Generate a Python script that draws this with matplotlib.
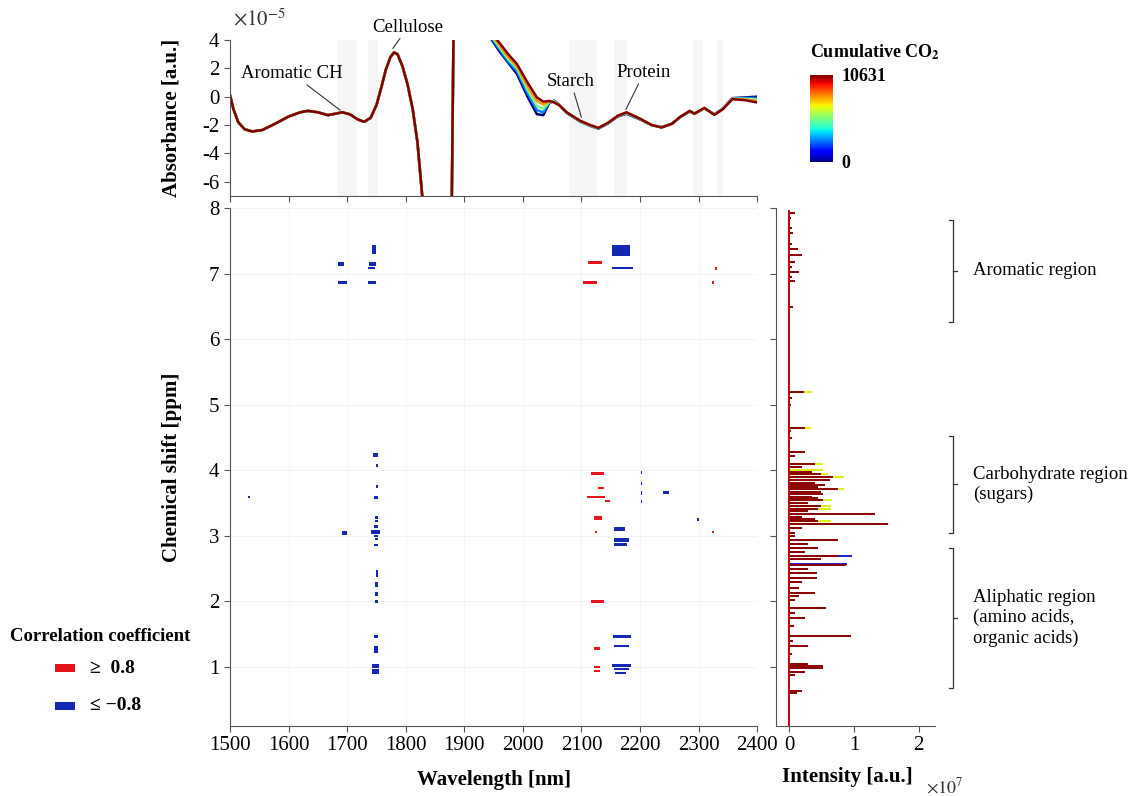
import numpy as np
import matplotlib.pyplot as plt
from matplotlib import cm
from matplotlib.colors import Normalize
from matplotlib.patches import Rectangle

plt.rcParams['font.family'] = ['Liberation Serif', 'DejaVu Serif']
plt.rcParams['mathtext.fontset'] = 'stix'
plt.rcParams['axes.unicode_minus'] = False

# ---- NIR spectra (absorbance, units of 1e-5 a.u.) ----
# left part is the same for all samples
wl_left = [1500, 1506, 1514, 1525, 1538, 1555, 1575, 1600, 1620, 1633, 1650, 1667,
           1680, 1692, 1705, 1718, 1729, 1740, 1750, 1758, 1766, 1774, 1780, 1786,
           1794, 1803, 1812, 1820, 1828, 1835, 1878, 1882]
abs_left = [0.1, -0.9, -1.8, -2.3, -2.45, -2.35, -1.95, -1.4, -1.1, -1.0, -1.1, -1.3,
            -1.2, -1.1, -1.25, -1.6, -1.77, -1.5, -0.6, 0.6, 1.9, 2.8, 3.12, 3.0,
            2.2, 0.9, -0.9, -3.2, -6.9, -10, -10, 6]

wl_right = [1935, 1944, 1960, 1975, 1990, 2008, 2024, 2035, 2045, 2053, 2062, 2075,
            2098, 2115, 2129, 2145, 2162, 2177, 2200, 2220, 2237, 2255, 2268, 2285,
            2293, 2310, 2327, 2341, 2358, 2380, 2399]
abs_co2_0 = [6, 4.2, 3.2, 2.4, 1.6, 0.0, -1.23, -1.3, -0.45, -0.28, -0.55, -1.15,
             -1.75, -2.05, -2.25, -1.9, -1.4, -1.2, -1.6, -2.0, -2.15, -1.9, -1.45, -1.05,
             -1.2, -0.8, -1.25, -0.85, -0.1, -0.05, 0.0]
abs_co2_2700 = [6, 4.3, 3.35, 2.5, 1.8, 0.25, -0.95, -1.1, -0.4, -0.3, -0.56, -1.14,
                -1.74, -2.04, -2.24, -1.88, -1.38, -1.17, -1.58, -2.0, -2.16, -1.9, -1.45, -1.03,
                -1.2, -0.8, -1.26, -0.87, -0.12, -0.1, -0.1]
abs_co2_5300 = [6, 4.4, 3.5, 2.65, 2.0, 0.5, -0.65, -0.85, -0.38, -0.33, -0.57, -1.12,
                -1.72, -2.02, -2.22, -1.87, -1.37, -1.14, -1.56, -2.0, -2.16, -1.9, -1.45, -1.02,
                -1.2, -0.8, -1.27, -0.88, -0.14, -0.15, -0.2]
abs_co2_8000 = [6, 4.5, 3.65, 2.8, 2.15, 0.75, -0.3, -0.55, -0.33, -0.37, -0.58, -1.11,
                -1.71, -2.01, -2.21, -1.86, -1.36, -1.12, -1.55, -2.0, -2.17, -1.9, -1.45, -1.01,
                -1.2, -0.8, -1.28, -0.89, -0.16, -0.2, -0.3]
abs_co2_10631 = [6, 4.6, 3.8, 3.0, 2.3, 1.0, -0.05, -0.35, -0.3, -0.4, -0.6, -1.1,
                 -1.7, -2.0, -2.2, -1.85, -1.35, -1.1, -1.55, -2.0, -2.17, -1.9, -1.45, -1.0,
                 -1.2, -0.8, -1.28, -0.9, -0.17, -0.25, -0.4]
co2_levels = [0, 2700, 5300, 8000, 10631]
co2_max = 10631

# light gray wavelength bands in the spectrum panel
band_start = [1683, 1735, 2078, 2155, 2290, 2331]
band_end = [1717, 1752, 2127, 2178, 2307, 2342]

# ---- correlation map (wl_start, wl_end, ppm_low, ppm_high) ----
pos_blobs = [
    (2111, 2135, 7.14, 7.19), (2102, 2127, 6.84, 6.89), (2328, 2332, 7.06, 7.10),
    (2323, 2327, 6.84, 6.88), (2116, 2138, 3.93, 3.98), (2129, 2138, 3.72, 3.75),
    (2109, 2141, 3.57, 3.61), (2141, 2148, 3.52, 3.55), (2122, 2135, 3.24, 3.30),
    (2124, 2127, 3.04, 3.07), (2116, 2138, 1.97, 2.02), (2122, 2132, 1.26, 1.30),
    (2121, 2132, 0.98, 1.02), (2121, 2132, 0.92, 0.96), (2323, 2326, 3.04, 3.07),
]
neg_blobs = [
    (1685, 1694, 7.12, 7.17), (1685, 1699, 6.84, 6.89), (1736, 1749, 6.84, 6.89),
    (1738, 1750, 7.12, 7.18), (1736, 1748, 7.07, 7.10), (1742, 1750, 7.30, 7.43),
    (1744, 1752, 4.20, 4.26), (1749, 1752, 4.05, 4.09), (1749, 1752, 3.73, 3.77),
    (1746, 1753, 3.56, 3.61), (1747, 1753, 3.26, 3.30), (1747, 1753, 3.21, 3.24),
    (1745, 1753, 3.12, 3.17), (1740, 1756, 3.03, 3.09), (1746, 1753, 2.99, 3.01),
    (1691, 1700, 3.02, 3.07), (1747, 1753, 2.93, 2.97), (1745, 1753, 2.84, 2.88),
    (1749, 1753, 2.38, 2.48), (1747, 1753, 2.22, 2.30), (1747, 1753, 2.08, 2.15),
    (1747, 1753, 1.97, 2.02), (1745, 1753, 1.45, 1.49), (1745, 1753, 1.22, 1.32),
    (1743, 1755, 0.99, 1.05), (1743, 1755, 0.90, 0.97), (1531, 1534, 3.58, 3.61),
    (2153, 2183, 7.27, 7.43), (2152, 2188, 7.07, 7.10), (2156, 2175, 3.08, 3.13),
    (2156, 2181, 2.91, 2.97), (2156, 2178, 2.85, 2.89), (2154, 2184, 1.45, 1.49),
    (2156, 2181, 1.30, 1.33), (2153, 2184, 1.00, 1.05), (2155, 2182, 0.95, 0.99),
    (2158, 2176, 0.89, 0.93), (2202, 2204, 3.95, 3.99), (2202, 2204, 3.78, 3.82),
    (2202, 2204, 3.63, 3.69), (2202, 2204, 3.50, 3.54), (2240, 2249, 3.64, 3.69),
    (2297, 2300, 3.23, 3.27),
]

# ---- 1H NMR spectrum (intensity, units of 1e7 a.u.) ----
nmr_ppm = [7.93, 7.84, 7.70, 7.62, 7.45, 7.37, 7.29, 7.18, 7.10, 7.03, 6.95, 6.88, 6.49,
           5.20, 5.10, 5.00, 4.64, 4.60, 4.49, 4.28, 4.22, 4.10, 4.05, 3.98, 3.94, 3.90,
           3.85, 3.81, 3.77, 3.74, 3.71, 3.67, 3.64, 3.60, 3.57, 3.54, 3.50, 3.45, 3.41,
           3.38, 3.34, 3.29, 3.25, 3.23, 3.18, 3.12, 3.05, 3.00, 2.94, 2.88, 2.82, 2.76,
           2.69, 2.64, 2.55, 2.50, 2.44, 2.36, 2.30, 2.21, 2.13, 2.08, 2.02, 1.90, 1.82,
           1.75, 1.62, 1.47, 1.40, 1.32, 1.20, 1.05, 1.01, 0.99, 0.93, 0.88, 0.63, 0.60]
nmr_int = [0.09, 0.03, 0.05, 0.06, 0.04, 0.14, 0.20, 0.09, 0.05, 0.16, 0.05, 0.09, 0.06,
           0.23, 0.05, 0.03, 0.24, 0.03, 0.05, 0.24, 0.10, 0.40, 0.20, 0.35, 0.50, 0.68,
           0.64, 0.40, 0.55, 0.45, 0.75, 0.50, 0.52, 0.35, 0.45, 0.53, 0.30, 0.50, 0.45,
           0.30, 1.33, 0.20, 0.40, 0.45, 1.53, 0.20, 0.10, 0.10, 0.75, 0.30, 0.45, 0.25,
           0.75, 0.50, 0.88, 0.30, 0.43, 0.43, 0.20, 0.15, 0.40, 0.15, 0.10, 0.57, 0.10,
           0.24, 0.08, 0.95, 0.06, 0.30, 0.05, 0.30, 0.52, 0.52, 0.25, 0.10, 0.20, 0.12]
nmr_hi_ppm = [5.20, 4.64, 4.10, 4.00, 3.94, 3.90, 3.71, 3.54, 3.45, 3.41, 3.23]
nmr_hi_int = [0.36, 0.34, 0.52, 0.52, 0.60, 0.85, 0.85, 0.66, 0.65, 0.65, 0.65]
nmr_lo_ppm = [2.69, 2.57]
nmr_lo_int = [0.97, 0.90]

# region brackets (ppm_top, ppm_bottom, label)
region_top = [7.82, 4.52, 2.82]
region_bot = [6.26, 3.05, 0.68]
region_label = ['Aromatic region', 'Carbohydrate region\n(sugars)',
                'Aliphatic region\n(amino acids,\norganic acids)']

red = '#e8141b'
blue = '#1428b4'
dark_red = '#8a0000'

fig = plt.figure(figsize=(11.45, 7.96), dpi=100)
ax_top = fig.add_axes([0.2009, 0.7538, 0.4603, 0.1960])
ax = fig.add_axes([0.2009, 0.0879, 0.4603, 0.6508])
ax_nmr = fig.add_axes([0.6777, 0.0879, 0.1389, 0.6508])
cax = fig.add_axes([0.7074, 0.7965, 0.0201, 0.1093])

# --- top: NIR spectra coloured by cumulative CO2 ---
norm = Normalize(0, co2_max)
for s, e in zip(band_start, band_end):
    ax_top.axvspan(s, e, color='#f5f5f5', lw=0, zorder=0)
curves = [abs_co2_0, abs_co2_2700, abs_co2_5300, abs_co2_8000, abs_co2_10631]
for lvl, ab in zip(co2_levels, curves):
    ax_top.plot(wl_left + wl_right, abs_left + ab, color=cm.jet(norm(lvl)), lw=1.8)
ax_top.set_xlim(1500, 2400)
ax_top.set_ylim(-7, 4)
ax_top.set_yticks([-6, -4, -2, 0, 2, 4])
ax_top.set_xticks(np.arange(1500, 2401, 100))
ax_top.set_xticklabels([])
ax_top.tick_params(direction='out', labelsize=15, length=4, color='#555555')
for side in ['top', 'right']:
    ax_top.spines[side].set_visible(False)
for side in ['left', 'bottom']:
    ax_top.spines[side].set_color('#555555')
ax_top.set_ylabel('Absorbance [a.u.]', fontsize=15, fontweight='bold')
ax_top.yaxis.set_label_coords(-0.092, 0.5)
ax_top.text(0.005, 1.13, r'$\times10^{-5}$', transform=ax_top.transAxes,
            fontsize=15, va='center', ha='left', color='#333333')

ann = dict(arrowstyle='-', color='#333333', lw=0.8, shrinkA=0, shrinkB=0)
ax_top.annotate('Aromatic CH', xy=(1688, -0.95), xytext=(1606, 1.63),
                ha='center', va='center', fontsize=13.5, arrowprops=ann)
ax_top.annotate('Cellulose', xy=(1778, 3.4), xytext=(1804, 4.9),
                ha='center', va='center', fontsize=13.5, arrowprops=ann,
                annotation_clip=False)
ax_top.annotate('Starch', xy=(2100, -1.45), xytext=(2082, 1.06),
                ha='center', va='center', fontsize=13.5, arrowprops=ann)
ax_top.annotate('Protein', xy=(2176, -0.9), xytext=(2207, 1.7),
                ha='center', va='center', fontsize=13.5, arrowprops=ann)

# --- main: correlation map ---
for blobs, col in [(pos_blobs, red), (neg_blobs, blue)]:
    w0 = np.array([b[0] for b in blobs])
    w1 = np.array([b[1] for b in blobs])
    lo = np.array([b[2] for b in blobs])
    hi = np.array([b[3] for b in blobs])
    ax.barh((lo + hi) / 2, w1 - w0, left=w0, height=hi - lo, color=col, lw=0)
ax.set_xlim(1500, 2400)
ax.set_ylim(0.1, 8)
ax.set_xticks(np.arange(1500, 2401, 100))
ax.set_yticks(np.arange(1, 9))
ax.grid(True, color='#f2f2f2', lw=0.6)
ax.set_axisbelow(True)
ax.tick_params(direction='out', labelsize=15, length=4, color='#555555')
for side in ['top', 'right']:
    ax.spines[side].set_visible(False)
for side in ['left', 'bottom']:
    ax.spines[side].set_color('#555555')
ax.set_xlabel('Wavelength [nm]', fontsize=15, fontweight='bold')
ax.set_ylabel('Chemical shift [ppm]', fontsize=15, fontweight='bold')
ax.xaxis.set_label_coords(0.5, -0.085)
ax.yaxis.set_label_coords(-0.092, 0.5)

# --- right: NMR spectrum ---
ax_nmr.hlines(nmr_hi_ppm, 0, nmr_hi_int, color='#dcf01e', lw=1.5)
ax_nmr.hlines(nmr_lo_ppm, 0, nmr_lo_int, color='#2020d0', lw=1.4)
ax_nmr.hlines(nmr_ppm, 0, nmr_int, color=dark_red, lw=1.4)
ax_nmr.plot([0, 0], [0.1, 7.95], color='#c00010', lw=1.4)
ax_nmr.set_xlim(-0.2, 2.25)
ax_nmr.set_ylim(0.1, 8)
ax_nmr.set_xticks([0, 1, 2])
ax_nmr.set_yticks(np.arange(1, 9))
ax_nmr.set_yticklabels([])
ax_nmr.tick_params(direction='out', labelsize=15, length=4, color='#555555')
for side in ['top', 'right']:
    ax_nmr.spines[side].set_visible(False)
for side in ['left', 'bottom']:
    ax_nmr.spines[side].set_color('#555555')
ax_nmr.set_xlabel('Intensity [a.u.]', fontsize=15, fontweight='bold')
ax_nmr.xaxis.set_label_coords(0.45, -0.08)
ax_nmr.text(1.06, -0.118, r'$\times10^{7}$', transform=ax_nmr.transAxes,
            fontsize=13, ha='center', va='center', color='#333333')

for top, bot, lab in zip(region_top, region_bot, region_label):
    kw = dict(color='#333333', lw=0.9, clip_on=False)
    ax_nmr.plot([2.46, 2.52, 2.52, 2.46], [top, top, bot, bot], **kw)
    ax_nmr.plot([2.52, 2.59], [(top + bot) / 2] * 2, **kw)
    ax_nmr.text(2.84, (top + bot) / 2, lab, fontsize=13.5, ha='left',
                va='center', linespacing=1.25, clip_on=False)

# --- colour bar ---
sm = cm.ScalarMappable(norm=norm, cmap='jet')
cb = fig.colorbar(sm, cax=cax, ticks=[0, co2_max])
cb.ax.set_yticklabels(['0', str(co2_max)], fontweight='bold', fontsize=13)
cb.ax.tick_params(length=0, pad=6)
cb.outline.set_visible(False)
fig.text(0.764, 0.9347, r'Cumulative CO$_\mathbf{2}$', fontsize=13,
         fontweight='bold', ha='center', va='center')

# --- correlation legend ---
fig.text(0.0087, 0.201, 'Correlation coefficient', fontsize=13.5,
         fontweight='bold', ha='left', va='center')
for yy, col, lab in [(0.1608, red, '\u2265  0.8'), (0.1131, blue, '\u2264 \u22120.8')]:
    fig.add_artist(Rectangle((0.048, yy - 0.0045), 0.0175, 0.009,
                             transform=fig.transFigure, color=col, lw=0))
    fig.text(0.079, yy, lab, fontsize=14, fontweight='bold', ha='left', va='center')

fig.savefig('out.png', dpi=100)
